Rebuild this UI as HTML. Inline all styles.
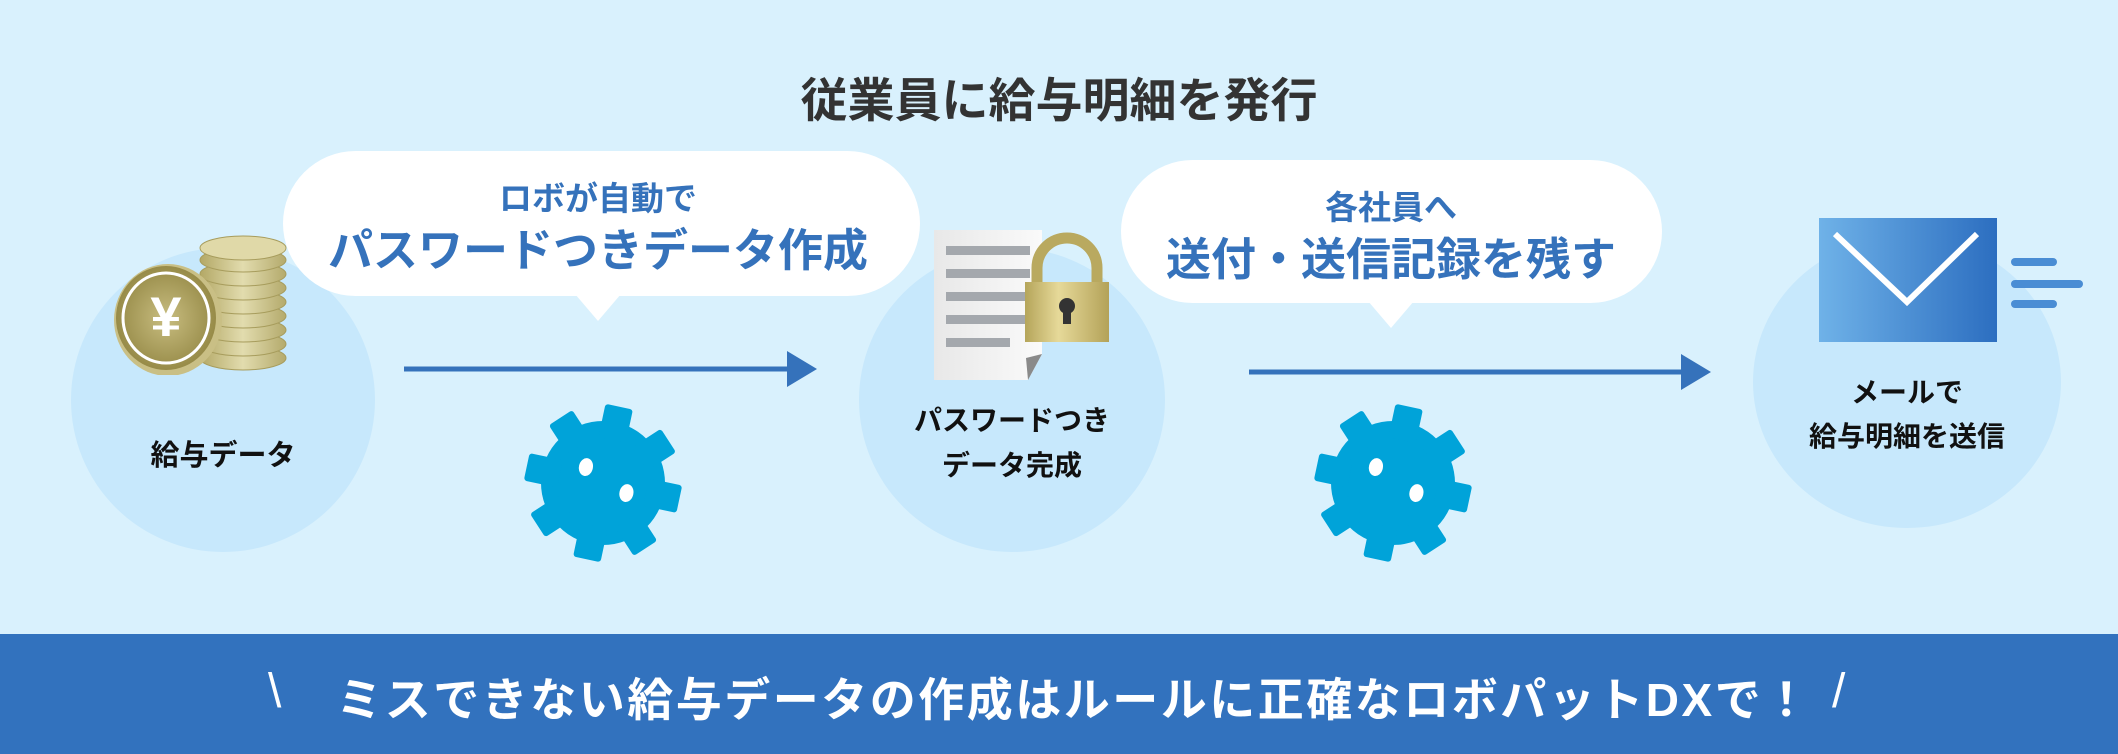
<!DOCTYPE html>
<html><head><meta charset="utf-8"><style>
*{margin:0;padding:0;box-sizing:border-box}
body{width:2118px;height:754px;overflow:hidden;background:#d9f1fd;position:relative;font-family:"Liberation Sans","Noto Sans CJK JP",sans-serif;font-weight:bold}
.a{position:absolute}
.c{position:absolute;border-radius:50%;background:#c7e8fc}
.t{position:absolute;text-align:center;white-space:nowrap;transform:translateX(-50%)}
.bub{position:absolute;background:#fff;border-radius:75px}
</style></head><body>
<div class="t" style="left:1059px;top:62px;font-size:47px;color:#333">従業員に給与明細を発行</div>

<div class="c" style="left:71px;top:248px;width:304px;height:304px"></div>
<div class="c" style="left:859px;top:248px;width:306px;height:304px"></div>
<div class="c" style="left:1753px;top:236px;width:308px;height:292px"></div>

<!-- coins -->
<svg class="a" style="left:110px;top:230px" width="185" height="145" viewBox="0 0 185 145">
<defs><linearGradient id="cg" x1="0" x2="1"><stop offset="0" stop-color="#b3a866"/><stop offset="0.5" stop-color="#e2dcae"/><stop offset="1" stop-color="#b4aa6c"/></linearGradient>
<radialGradient id="cf"><stop offset="0" stop-color="#c8bd80"/><stop offset="1" stop-color="#978b48"/></radialGradient></defs>
<g fill="url(#cg)" stroke="#a79c5c" stroke-width="1">
<ellipse cx="133" cy="128" rx="43" ry="12"/><ellipse cx="133" cy="114" rx="43" ry="12"/><ellipse cx="133" cy="100" rx="43" ry="12"/><ellipse cx="133" cy="86" rx="43" ry="12"/><ellipse cx="133" cy="72" rx="43" ry="12"/><ellipse cx="133" cy="58" rx="43" ry="12"/><ellipse cx="133" cy="44" rx="43" ry="12"/><ellipse cx="133" cy="30" rx="43" ry="12"/><ellipse cx="133" cy="18" rx="43" ry="12" fill="#e0d9a8"/></g>
<ellipse cx="58" cy="90" rx="54" ry="56" fill="#c9bf85"/>
<ellipse cx="56" cy="88" rx="50" ry="52" fill="url(#cf)"/>
<ellipse cx="56" cy="88" rx="43" ry="45" fill="none" stroke="#fff" stroke-width="3"/>
<text x="56" y="106" font-size="56" fill="#fff" text-anchor="middle" font-family="Liberation Sans" font-weight="bold">¥</text>
</svg>
<div class="t" style="left:223px;top:432px;font-size:29px;color:#111">給与データ</div>

<!-- bubble 1 -->
<div class="bub" style="left:283px;top:151px;width:637px;height:145px"></div>
<svg class="a" style="left:575px;top:294px" width="46" height="28"><polygon points="0,0 46,0 23,27" fill="#fff"/></svg>
<div class="t" style="left:598px;top:172px;font-size:33px;color:#3572bb">ロボが自動で</div>
<div class="t" style="left:598px;top:214px;font-size:45px;color:#3572bb">パスワードつきデータ作成</div>

<!-- bubble 2 -->
<div class="bub" style="left:1121px;top:160px;width:541px;height:143px"></div>
<svg class="a" style="left:1368px;top:301px" width="46" height="28"><polygon points="0,0 46,0 23,27" fill="#fff"/></svg>
<div class="t" style="left:1391px;top:181px;font-size:33px;color:#3572bb">各社員へ</div>
<div class="t" style="left:1391px;top:223px;font-size:45px;color:#3572bb">送付・送信記録を残す</div>

<!-- arrows -->
<svg class="a" style="left:0;top:0" width="2118" height="754">
<line x1="404" y1="369" x2="792" y2="369" stroke="#3572bb" stroke-width="5"/>
<polygon points="787,351 817,369 787,387" fill="#3572bb"/>
<line x1="1249" y1="372" x2="1685" y2="372" stroke="#3572bb" stroke-width="5"/>
<polygon points="1681,354 1711,372 1681,390" fill="#3572bb"/>
<defs><g id="gear">
<circle r="62" fill="#00a3d9"/>
<g fill="#00a3d9">
<rect x="-14" y="-78" width="28" height="34" rx="3"/>
<rect x="-14" y="-78" width="28" height="34" rx="3" transform="rotate(45)"/>
<rect x="-14" y="-78" width="28" height="34" rx="3" transform="rotate(90)"/>
<rect x="-14" y="-78" width="28" height="34" rx="3" transform="rotate(135)"/>
<rect x="-14" y="-78" width="28" height="34" rx="3" transform="rotate(180)"/>
<rect x="-14" y="-78" width="28" height="34" rx="3" transform="rotate(225)"/>
<rect x="-14" y="-78" width="28" height="34" rx="3" transform="rotate(270)"/>
<rect x="-14" y="-78" width="28" height="34" rx="3" transform="rotate(315)"/>
</g>
<ellipse cx="-20" cy="-12" rx="7" ry="9" fill="#fff"/>
<ellipse cx="25" cy="5" rx="7" ry="9" fill="#fff"/>
</g></defs>
<use href="#gear" transform="translate(603,483) rotate(12)"/>
<use href="#gear" transform="translate(1393,483) rotate(12)"/>
</svg>

<!-- doc + lock -->
<svg class="a" style="left:930px;top:226px" width="180" height="158">
<defs><linearGradient id="dg" x1="0" x2="1"><stop offset="0" stop-color="#e8e8e8"/><stop offset="1" stop-color="#fafafa"/></linearGradient>
<linearGradient id="lg" x1="0" x2="1"><stop offset="0" stop-color="#b5a55a"/><stop offset="0.4" stop-color="#e6d999"/><stop offset="1" stop-color="#b3a258"/></linearGradient></defs>
<path d="M4,4 H112 V128 L98,154 H4 Z" fill="url(#dg)"/>
<path d="M112,128 L98,154 L96,132 Z" fill="#8a8a8a"/>
<g fill="#a4a8ad"><rect x="16" y="20" width="84" height="9"/><rect x="16" y="43" width="84" height="9"/><rect x="16" y="66" width="84" height="9"/><rect x="16" y="89" width="84" height="9"/><rect x="16" y="112" width="64" height="9"/></g>
<path d="M107,58 V42 a30,30 0 0 1 60,0 V58" fill="none" stroke="#b9a95f" stroke-width="11"/>
<rect x="95" y="56" width="84" height="60" fill="url(#lg)"/>
<circle cx="137" cy="80" r="8" fill="#333"/><rect x="133" y="82" width="8" height="16" fill="#333"/>
</svg>
<div class="t" style="left:1012px;top:398px;font-size:28px;color:#111;line-height:45px">パスワードつき<br>データ完成</div>

<!-- envelope -->
<svg class="a" style="left:1815px;top:214px" width="272" height="132">
<defs><linearGradient id="eg" x1="0" x2="1"><stop offset="0" stop-color="#6fb2e8"/><stop offset="1" stop-color="#2c6ec0"/></linearGradient></defs>
<rect x="4" y="4" width="178" height="124" fill="url(#eg)"/>
<polyline points="20,20 92,88 162,20" fill="none" stroke="#fff" stroke-width="6"/>
<g stroke="#4a8dd4" stroke-width="8" stroke-linecap="round"><line x1="200" y1="48" x2="238" y2="48"/><line x1="200" y1="70" x2="264" y2="70"/><line x1="200" y1="90" x2="238" y2="90"/></g>
</svg>
<div class="t" style="left:1907px;top:371px;font-size:28px;color:#111;line-height:44px">メールで<br>給与明細を送信</div>

<!-- bottom band -->
<div class="a" style="left:0;top:634px;width:2118px;height:120px;background:#3272be"></div>
<div class="a" style="left:268px;top:664px;font-size:48px;color:#fff;font-weight:normal">\</div>
<div class="t" style="left:1074px;top:664px;font-size:46px;color:#fff;letter-spacing:2.5px">ミスできない給与データの作成はルールに正確なロボパットDXで！</div>
<div class="a" style="left:1832px;top:664px;font-size:48px;color:#fff;font-weight:normal">/</div>
</body></html>
